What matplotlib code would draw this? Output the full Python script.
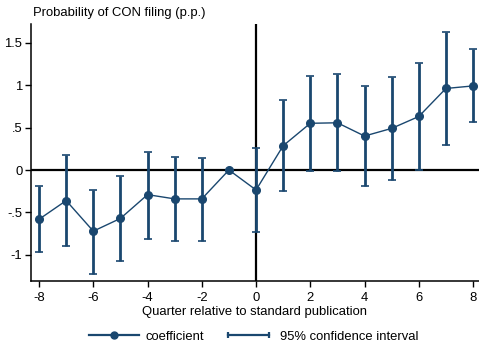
import matplotlib
matplotlib.use("Agg")
import matplotlib.pyplot as plt
from matplotlib.lines import Line2D
from matplotlib.legend_handler import HandlerLine2D

plt.rcParams['font.family'] = ['Liberation Sans', 'DejaVu Sans']

quarters = [-8, -7, -6, -5, -4, -3, -2, -1, 0, 1, 2, 3, 4, 5, 6, 7, 8]
coef = [-0.58, -0.36, -0.72, -0.57, -0.29, -0.34, -0.34, 0.0, -0.235,
        0.286, 0.55, 0.556, 0.40, 0.49, 0.63, 0.96, 0.99]
ci_low = [-0.96, -0.89, -1.22, -1.07, -0.81, -0.83, -0.83, 0.0, -0.73,
          -0.25, -0.01, -0.01, -0.185, -0.118, 0.0, 0.29, 0.57]
ci_high = [-0.19, 0.176, -0.23, -0.075, 0.215, 0.153, 0.145, 0.0, 0.26,
           0.82, 1.11, 1.13, 0.985, 1.094, 1.26, 1.62, 1.42]

xticks = [-8, -6, -4, -2, 0, 2, 4, 6, 8]
yticks = [-1, -0.5, 0, 0.5, 1, 1.5]
ytick_labels = ["-1", "-.5", "0", ".5", "1", "1.5"]

navy = "#1a476f"
fs = 9.4

fig = plt.figure(figsize=(4.79, 3.49), dpi=100)
ax = fig.add_axes([0.064, 0.195, 0.936, 0.736])

ax.axhline(0, color="black", lw=1.6, zorder=1)
ax.axvline(0, color="black", lw=1.6, zorder=1)

err = [[c - lo for c, lo in zip(coef, ci_low)], [hi - c for c, hi in zip(coef, ci_high)]]
ax.errorbar(quarters, coef, yerr=err, fmt="none", ecolor=navy, elinewidth=2.0,
            capsize=2.6, capthick=1.2, zorder=2)
ax.plot(quarters, coef, color=navy, lw=1.0, marker="o", markersize=5.5, zorder=3)

ax.set_xlim(-8.31, 8.22)
ax.set_ylim(-1.306, 1.718)
ax.set_xticks(xticks)
ax.set_xticklabels([str(t) for t in xticks], fontsize=fs)
ax.set_yticks(yticks)
ax.set_yticklabels(ytick_labels, fontsize=fs)
ax.tick_params(axis="y", direction="out", length=4, width=1, pad=2)
ax.tick_params(axis="x", direction="out", length=4, width=1, pad=4)
for s in ["top", "right"]:
    ax.spines[s].set_visible(False)
for s in ["left", "bottom"]:
    ax.spines[s].set_linewidth(1.1)

ax.set_xlabel("Quarter relative to standard publication", fontsize=fs, labelpad=1.5)
fig.text(0.069, 0.962, "Probability of CON filing (p.p.)", fontsize=fs, va="center", ha="left")

h_coef = Line2D([], [], color=navy, lw=1.6, marker="o", markersize=5)
h_ci = Line2D([], [], color=navy, lw=1.6, marker="|", markersize=5, markeredgewidth=1.6)
fig.legend([h_coef, h_ci], ["coefficient", "95% confidence interval"],
           loc="center", bbox_to_anchor=(0.53, 0.035), ncol=2, frameon=False,
           fontsize=fs, handlelength=3.8, columnspacing=1.5, handletextpad=0.5,
           handler_map={h_coef: HandlerLine2D(numpoints=1), h_ci: HandlerLine2D(numpoints=2)})

fig.savefig("out.png", dpi=100)
